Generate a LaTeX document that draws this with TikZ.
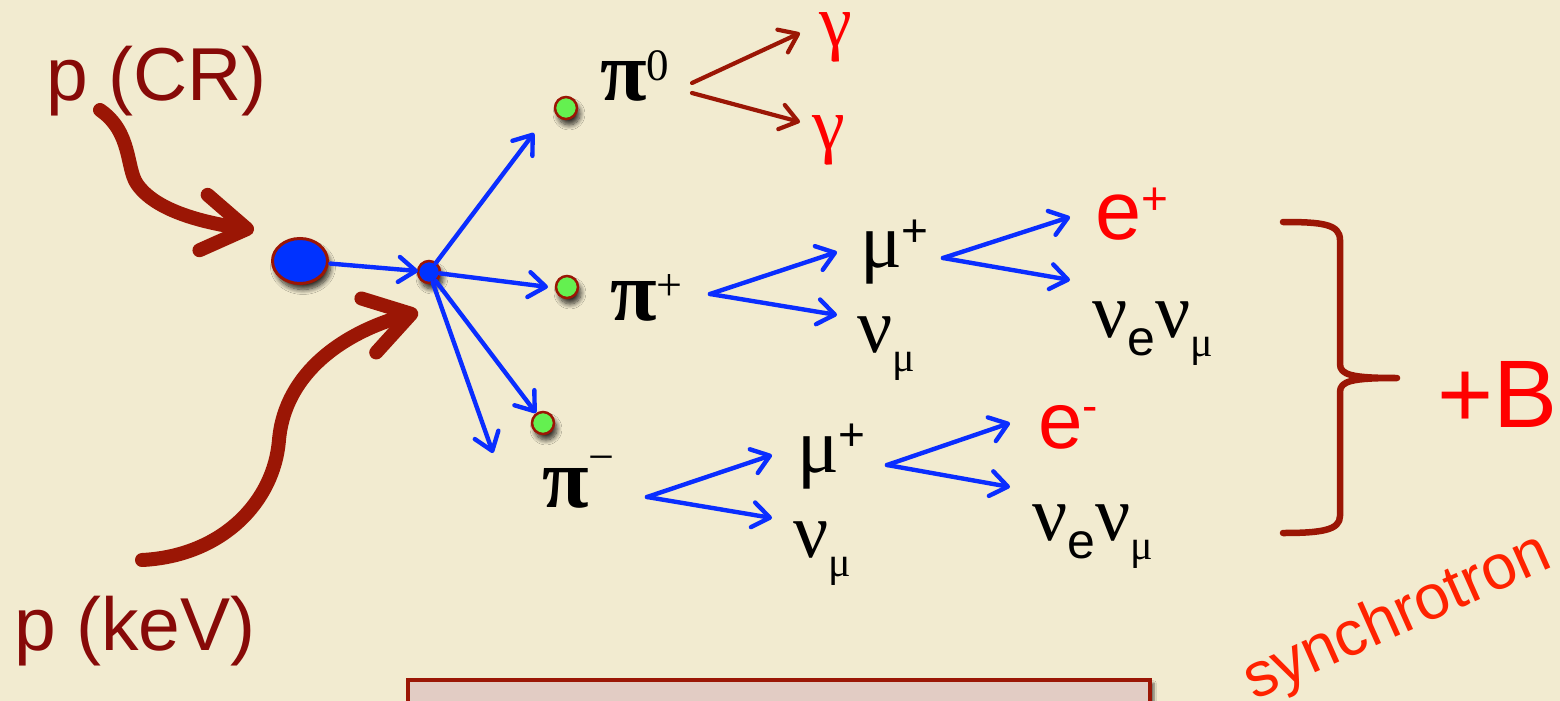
\documentclass[tikz,border=0pt]{standalone}
\usepackage{fontspec}
\setmainfont{Liberation Sans}
\newfontfamily\grk{Liberation Serif}
\usetikzlibrary{arrows.meta,shadows,shadows.blur,shapes.geometric}
\definecolor{bg}{RGB}{242,235,208}
\definecolor{dred}{RGB}{135,10,8}
\definecolor{ared}{RGB}{155,22,5}
\definecolor{pblue}{RGB}{10,45,255}
\definecolor{dotblue}{RGB}{0,50,255}
\definecolor{dotgreen}{RGB}{100,240,80}
\definecolor{tred}{RGB}{255,0,0}
\definecolor{sred}{RGB}{255,34,0}
\definecolor{pinkbox}{RGB}{226,204,196}
\newcommand{\fsz}[1]{\fontsize{#1}{#1}\selectfont}
\begin{document}
\begin{tikzpicture}[x=1pt,y=-1pt,
  every node/.style={inner sep=0pt,outer sep=0pt},
  lbl/.style={anchor=base west},
  barrow/.style={draw=pblue,line width=4.4pt,line cap=round,
    -{Straight Barb[length=17pt,width=25pt,round]}},
  rarrow/.style={draw=ared,line width=4.2pt,line cap=round,
    -{Straight Barb[length=17pt,width=25pt,round]}},
  bigarrow/.style={draw=ared,line width=14pt,line cap=round,
    -{Straight Barb[length=44pt,width=56pt,round]}},
  shad/.style={blur shadow={shadow xshift=3pt,shadow yshift=-6pt,shadow opacity=80,shadow blur steps=10,shadow blur radius=5pt}},
  gdot/.style={circle,minimum size=22pt,fill=dotgreen,draw=ared,line width=2.5pt,shad},
]
\useasboundingbox (0,0) rectangle (1560,701);
\fill[bg] (0,0) rectangle (1560,701);
\clip (0,0) rectangle (1560,701);

% pink box
\node[draw=ared,line width=3.5pt,fill=pinkbox,minimum width=742pt,minimum height=80pt,anchor=north west,
  blur shadow={shadow xshift=4pt,shadow yshift=-3pt,shadow opacity=55,shadow blur steps=6}] (box) at (408,680) {};

% proton labels
\node[lbl,text=dred] (pcr) at (46,100) {\fsz{75}p (CR)};
\node[lbl,text=dred] (pkev) at (14,650) {\fsz{75}p (keV)};

% interaction blobs
\node[ellipse,minimum width=55pt,minimum height=45pt,fill=dotblue,draw=ared,line width=3pt,shad] (p1) at (300,261) {};
\node[circle,minimum size=22pt,fill=dotblue,draw=ared,line width=2.5pt,shad] (v) at (429,272) {};
\node[gdot] (g0) at (566,108) {};
\node[gdot] (g1) at (567,287) {};
\node[gdot] (g2) at (543,423) {};

% incoming thick arrows
\coordinate (cr0) at (100,110);
\coordinate (cr1) at (254,230);
\coordinate (kv0) at (142,560);
\coordinate (kv1) at (418,312);
\draw[bigarrow] (cr0) .. controls (132,132) and (126,168) .. (137,184) .. controls (155,210) and (200,222) .. (cr1);
\draw[bigarrow] (kv0) .. controls (222,556) and (274,502) .. (279,440) .. controls (285,372) and (345,332) .. (kv1);

% vertex arrows
\coordinate (t0) at (534,133);
\coordinate (t1) at (548,287);
\coordinate (t2) at (536,413);
\coordinate (t3) at (493,453);
\draw[barrow,shorten <=3pt] (p1) -- (v);
\draw[barrow] (v) -- (t0);
\draw[barrow] (v) -- (t1);
\draw[barrow] (v) -- (t2);
\draw[barrow] (v) -- (t3);

% pi0 branch
\node[lbl] (pi0) at (600,100) {{\grk\bfseries\fsz{85}π}\raisebox{20pt}{\grk\fsz{45}0}};
\coordinate (a0) at (692,83);
\coordinate (a0b) at (692,93);
\coordinate (ga) at (800,33);
\coordinate (gb) at (800,122);
\draw[rarrow] (a0) -- (ga);
\draw[rarrow] (a0b) -- (gb);
\node[lbl,text=tred] (gam1) at (819,47) {\grk\fsz{74}γ};
\node[lbl,text=tred] (gam2) at (812,149) {\grk\fsz{74}γ};

% pi+ branch
\node[lbl] (pip) at (610,320) {{\grk\bfseries\fsz{85}π}\raisebox{20pt}{\grk\fsz{46}+}};
\coordinate (b0) at (710,294);
\coordinate (b1) at (837,252);
\coordinate (b2) at (837,315);
\draw[barrow] (b0) -- (b1);
\draw[barrow] (b0) -- (b2);
\node[lbl] (mup1) at (860,267) {{\grk\fsz{78}μ}\raisebox{21pt}{\fsz{46}+}};
\node[lbl] (num1) at (857,352) {{\grk\fsz{78}ν}\raisebox{-19pt}{\grk\fsz{42}μ}};
\coordinate (c0) at (943,258);
\coordinate (c1) at (1070,217);
\coordinate (c2) at (1070,280);
\draw[barrow] (c0) -- (c1);
\draw[barrow] (c0) -- (c2);
\node[lbl,text=tred] (ep) at (1095,239) {\fsz{83}e\raisebox{25pt}{\fsz{46}+}};
\node[lbl] (nn1) at (1092,337) {{\grk\fsz{78}ν}\raisebox{-18pt}{\fsz{50}e}{\grk\fsz{78}ν}\raisebox{-19pt}{\grk\fsz{42}μ}};

% pi- branch
\node[lbl] (pim) at (542,507) {{\grk\bfseries\fsz{85}π}\raisebox{35pt}{\grk\fsz{46}−}};
\coordinate (d0) at (647,497);
\coordinate (d1) at (772,455);
\coordinate (d2) at (772,518);
\draw[barrow] (d0) -- (d1);
\draw[barrow] (d0) -- (d2);
\node[lbl] (mup2) at (797,472) {{\grk\fsz{78}μ}\raisebox{22pt}{\fsz{46}+}};
\node[lbl] (num2) at (793,557) {{\grk\fsz{78}ν}\raisebox{-19pt}{\grk\fsz{42}μ}};
\coordinate (f0) at (887,465);
\coordinate (f1) at (1010,423);
\coordinate (f2) at (1010,487);
\draw[barrow] (f0) -- (f1);
\draw[barrow] (f0) -- (f2);
\node[lbl,text=tred] (em) at (1038,448) {\fsz{80}e\raisebox{27pt}{\fsz{46}-}};
\node[lbl] (nn2) at (1032,540) {{\grk\fsz{78}ν}\raisebox{-18pt}{\fsz{50}e}{\grk\fsz{78}ν}\raisebox{-19pt}{\grk\fsz{42}μ}};

% bracket
\coordinate (br1) at (1283,222);
\coordinate (brt) at (1397,378);
\coordinate (br2) at (1283,533);
\draw[ared,line width=6.5pt,line cap=round,line join=round]
  (br1) .. controls (1322,222) and (1340,224) .. (1340,240) -- (1340,364)
  .. controls (1340,375) and (1352,378) .. (brt)
  .. controls (1352,378) and (1340,381) .. (1340,392) -- (1340,516)
  .. controls (1340,530) and (1322,533) .. (br2);
\node[lbl,text=tred] (plusb) at (1437,427) {\fsz{96}+B};
\node[lbl,text=sred,rotate=24] (sync) at (1254,700) {\fsz{63}synchrotron};
\end{tikzpicture}
\end{document}
